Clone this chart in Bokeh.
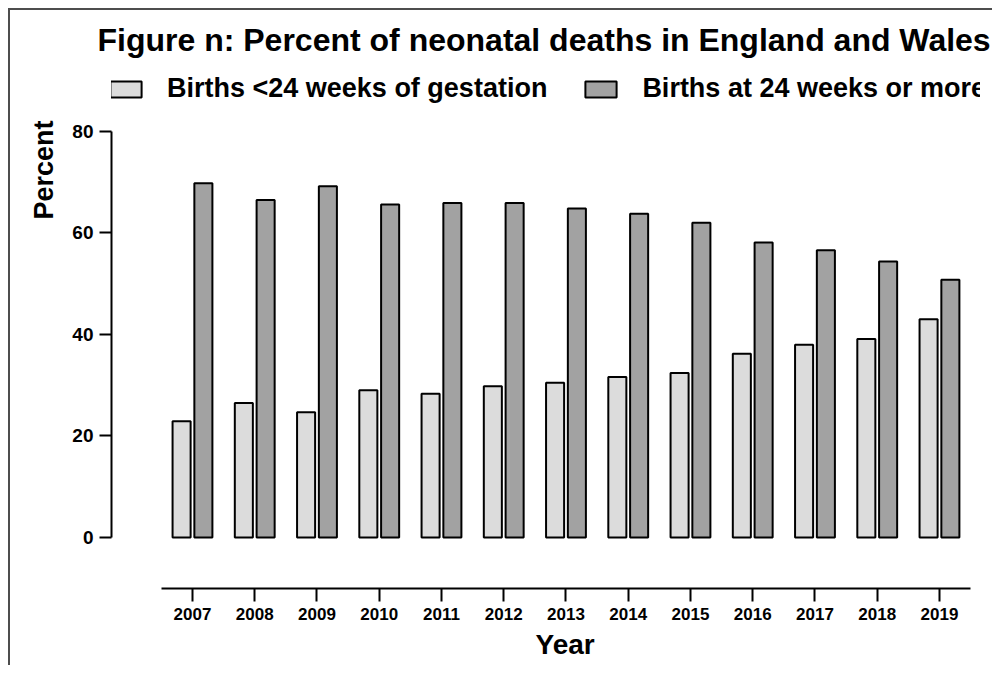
from bokeh.plotting import figure
from bokeh.layouts import column
from bokeh.models import (LinearAxis, FixedTicker, Range1d, Legend, LegendItem,
                          ColumnDataSource, NumeralTickFormatter, Title)
from bokeh.transform import dodge
from bokeh.embed import file_html
from bokeh.resources import INLINE

# ---- data ----
years = [2007, 2008, 2009, 2010, 2011, 2012, 2013, 2014, 2015, 2016, 2017, 2018, 2019]
under24 = [22.9, 26.5, 24.7, 29.0, 28.3, 29.8, 30.5, 31.6, 32.4, 36.2, 38.0, 39.1, 43.0]
over24 = [69.8, 66.5, 69.2, 65.6, 65.9, 65.9, 64.8, 63.8, 62.0, 58.1, 56.6, 54.4, 50.8]
y_ticks = [0, 20, 40, 60, 80]
title_text = "Figure n: Percent of neonatal deaths in England and Wales"
series_names = ["Births <24 weeks of gestation", "Births at 24 weeks or more"]
x_label = "Year"
y_label = "Percent"

FONT = "Liberation Sans"

p = figure(width=982, height=655,
           x_range=Range1d(2005.699, 2019.659), y_range=Range1d(-10.05, 92.8),
           output_backend="svg", toolbar_location=None,
           x_axis_location=None, y_axis_location=None,
           min_border_left=101, min_border_top=56, min_border_right=12,
           min_border_bottom=77)
p.xgrid.visible = False
p.ygrid.visible = False
p.outline_line_color = None
p.background_fill_color = "white"
p.border_fill_color = "white"

src = ColumnDataSource(dict(year=years, under=under24, over=over24))
r1 = p.vbar(x=dodge("year", -0.175, range=p.x_range), top="under", bottom=0, width=0.29,
            source=src, fill_color="#dcdcdc", line_color="black", line_width=2)
r2 = p.vbar(x=dodge("year", 0.175, range=p.x_range), top="over", bottom=0, width=0.29,
            source=src, fill_color="#a2a2a2", line_color="black", line_width=2)

# y axis (0-80)
yaxis = LinearAxis(bounds=(0, 80), ticker=FixedTicker(ticks=y_ticks),
                   axis_line_width=2, axis_line_color="black",
                   major_tick_out=12, major_tick_in=0, major_tick_line_width=2,
                   minor_tick_line_color=None, major_label_standoff=6,
                   major_label_text_font=FONT, major_label_text_font_style="bold",
                   major_label_text_font_size="19px", major_label_text_color="black")
p.add_layout(yaxis, "left")

# "Percent" label near the top of the y axis
ytitle = Title(text=y_label, align="right", offset=54, text_font=FONT,
               text_font_style="bold", text_font_size="27px", text_color="black",
               standoff=22)
p.add_layout(ytitle, "left")

# x axis
xaxis = LinearAxis(bounds=(2006.5, 2019.5), ticker=FixedTicker(ticks=years),
                   formatter=NumeralTickFormatter(format="0"),
                   axis_line_width=2, axis_line_color="black",
                   major_tick_out=13, major_tick_in=0, major_tick_line_width=2,
                   minor_tick_line_color=None, major_label_standoff=6,
                   major_label_text_font=FONT, major_label_text_font_style="bold",
                   major_label_text_font_size="17px", major_label_text_color="black")
p.add_layout(xaxis, "below")

xtitle = Title(text=x_label, align="left", offset=424, text_font=FONT,
               text_font_style="bold", text_font_size="28px", text_color="black",
               standoff=9)
p.add_layout(xtitle, "below")

legend = Legend(items=[LegendItem(label=series_names[0], renderers=[r1]),
                       LegendItem(label=series_names[1], renderers=[r2])],
                orientation="horizontal", location=(-5, 484),
                glyph_width=39, glyph_height=20, label_standoff=22, spacing=34,
                padding=0, margin=0, border_line_color=None, background_fill_alpha=0,
                label_text_font=FONT, label_text_font_style="bold",
                label_text_font_size="27px", label_text_color="black", label_height=20)
p.add_layout(legend, "center")

p.title.text = title_text
p.title.text_font = FONT
p.title.text_font_style = "bold"
p.title.text_font_size = "32px"
p.title.align = "left"
p.title.offset = -14
p.title.standoff = 17
p.title.text_color = "black"

layout = column(p, styles={"border-top": "2px solid #4d4d4d",
                           "border-left": "2px solid #4d4d4d",
                           "margin-top": "8px", "margin-left": "8px"})

open("out.html", "w").write(file_html(layout, INLINE))
